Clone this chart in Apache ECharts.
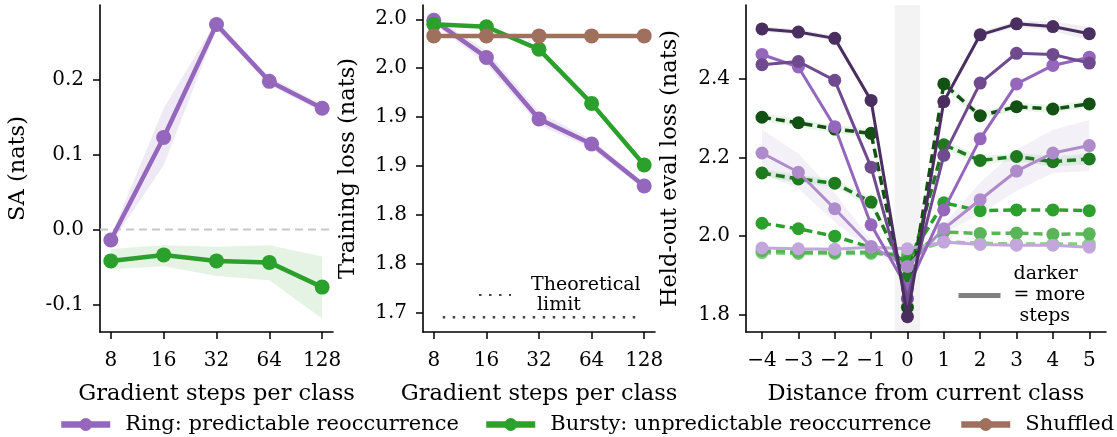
<!DOCTYPE html>
<html><head><meta charset="utf-8">
<script src="https://cdn.jsdelivr.net/npm/echarts@6/dist/echarts.min.js"></script>
<style>html,body{margin:0;padding:0;background:#fff}#c{width:1117px;height:437px}</style>
</head><body><div id="c"></div>
<script>
// ---------- data ----------
const steps = [8, 16, 32, 64, 128];
const stepLabels = ['8', '16', '32', '64', '128'];

// Panel 1: SA (nats)
const saRing     = [-0.014, 0.123, 0.274, 0.198, 0.162];
const saRingLo   = [-0.019, 0.086, 0.268, 0.193, 0.157];
const saRingHi   = [-0.009, 0.162, 0.279, 0.204, 0.167];
const saBursty   = [-0.042, -0.034, -0.042, -0.044, -0.077];
const saBurstyLo = [-0.053, -0.049, -0.062, -0.068, -0.119];
const saBurstyHi = [-0.026, -0.021, -0.023, -0.021, -0.036];
const saTicks = [-0.1, 0.0, 0.1, 0.2];
const saTickLabels = ['-0.1', '0.0', '0.1', '0.2'];
const saZero = 0;

// Panel 2: Training loss (nats)
const trainRing     = [1.999, 1.961, 1.898, 1.8725, 1.8295];
const trainRingLo   = [1.996, 1.954, 1.892, 1.868, 1.826];
const trainRingHi   = [2.002, 1.968, 1.905, 1.877, 1.833];
const trainBursty   = [1.995, 1.9924, 1.9693, 1.914, 1.851];
const trainShuffled = [1.983, 1.983, 1.983, 1.983, 1.983];
const theoreticalLimit = 1.6955;
const limitSpanSteps = [9, 117];
const trainTicks = [1.70, 1.75, 1.80, 1.85, 1.90, 1.95, 2.00];
const trainTickLabels = ['1.7', '1.8', '1.8', '1.9', '1.9', '2.0', '2.0'];

// Panel 3: Held-out eval loss (nats) vs distance
const dist = [-4, -3, -2, -1, 0, 1, 2, 3, 4, 5];
const distLabels = ['\u22124', '\u22123', '\u22122', '\u22121', '0', '1', '2', '3', '4', '5'];
const currentSpan = [-0.35, 0.35];
const ring8   = [1.969, 1.967, 1.966, 1.971, 1.967, 1.984, 1.978, 1.976, 1.976, 1.971];
const ring16  = [2.211, 2.162, 2.069, 1.973, 1.922, 2.018, 2.092, 2.165, 2.211, 2.230];
const ring16Lo = [2.160, 2.120, 2.035, 1.962, 1.912, 2.006, 2.055, 2.115, 2.160, 2.165];
const ring16Hi = [2.270, 2.210, 2.110, 1.988, 1.932, 2.030, 2.135, 2.220, 2.270, 2.295];
const ring32  = [2.462, 2.430, 2.278, 2.028, 1.866, 2.066, 2.247, 2.387, 2.434, 2.455];
const ring64  = [2.436, 2.444, 2.396, 2.175, 1.840, 2.205, 2.389, 2.465, 2.462, 2.440];
const ring128 = [2.527, 2.519, 2.503, 2.345, 1.794, 2.342, 2.512, 2.540, 2.533, 2.515];
const ring128Lo = [2.520, 2.512, 2.496, 2.338, 1.790, 2.335, 2.505, 2.532, 2.522, 2.498];
const ring128Hi = [2.534, 2.526, 2.510, 2.352, 1.798, 2.349, 2.519, 2.548, 2.546, 2.532];
const bursty8   = [1.957, 1.955, 1.955, 1.955, 1.955, 1.985, 1.981, 1.979, 1.979, 1.979];
const bursty16  = [1.962, 1.958, 1.958, 1.958, 1.945, 2.010, 2.006, 2.007, 2.004, 2.005];
const bursty32  = [2.032, 2.018, 1.999, 1.970, 1.935, 2.084, 2.064, 2.066, 2.066, 2.064];
const bursty64  = [2.160, 2.145, 2.134, 2.086, 1.895, 2.232, 2.192, 2.202, 2.189, 2.196];
const bursty64Lo = [2.150, 2.135, 2.124, 2.074, 1.885, 2.220, 2.182, 2.192, 2.176, 2.183];
const bursty64Hi = [2.170, 2.155, 2.144, 2.098, 1.905, 2.244, 2.202, 2.212, 2.202, 2.209];
const bursty128 = [2.302, 2.288, 2.272, 2.261, 1.818, 2.387, 2.306, 2.329, 2.323, 2.336];
const bursty128Lo = [2.292, 2.278, 2.262, 2.250, 1.810, 2.376, 2.296, 2.319, 2.313, 2.326];
const bursty128Hi = [2.312, 2.298, 2.282, 2.272, 1.826, 2.398, 2.316, 2.339, 2.333, 2.346];
const evalTicks = [1.8, 2.0, 2.2, 2.4];
const evalTickLabels = ['1.8', '2.0', '2.2', '2.4'];

// axis extents
const stepsRange = [2.795, 7.205];        // log2(steps) axis
const saRange = [-0.137, 0.30];
const trainRange = [1.6803, 2.0146];
const distRange = [-4.44, 5.46];
const evalRange = [1.755, 2.588];

// ---------- styling ----------
const FONT = 'DejaVu Serif';
const C_RING = '#9467bd', C_BURSTY = '#2ca02c', C_SHUF = '#a0705f';
const ringShades   = ['#c3a6dc', '#ae8ccb', '#9467bd', '#6f4a8e', '#4a2e60'];
const burstyShades = ['#86cc86', '#58b658', '#2ca02c', '#1f7a1f', '#135013'];

const lx = steps.map(s => Math.log2(s));
const pairs = (xs, ys) => xs.map((x, i) => [x, ys[i]]);
const labelFrom = (ticks, labels) => v => {
  let best = 0; ticks.forEach((t, i) => { if (Math.abs(t - v) < Math.abs(ticks[best] - v)) best = i; });
  return labels[best];
};

const axisLine = { show: true, onZero: false, lineStyle: { color: '#000', width: 1.6 } };
const axisTick = { show: true, inside: false, length: 7, lineStyle: { color: '#000', width: 1.5 } };
const labelStyle = { color: '#000', fontFamily: FONT, fontSize: 20 };
const nameStyle = { color: '#000', fontFamily: FONT, fontSize: 22.5 };

function xStepsAxis(gi) {
  return {
    type: 'value', gridIndex: gi, min: stepsRange[0], max: stepsRange[1],
    axisLine, axisTick: Object.assign({ customValues: lx }, axisTick),
    axisLabel: Object.assign({ customValues: lx, margin: 19, formatter: labelFrom(lx, stepLabels) }, labelStyle),
    splitLine: { show: false },
    name: 'Gradient steps per class', nameLocation: 'middle', nameGap: 51, nameTextStyle: nameStyle
  };
}

function band(gi, xs, lo, hi, color, opacity, z) {
  return {
    type: 'custom', xAxisIndex: gi, yAxisIndex: gi, silent: true, z: z == null ? 1 : z,
    data: [[xs[0], lo[0]]],
    renderItem: function (params, api) {
      const pts = [];
      for (let i = 0; i < xs.length; i++) pts.push(api.coord([xs[i], hi[i]]));
      for (let i = xs.length - 1; i >= 0; i--) pts.push(api.coord([xs[i], lo[i]]));
      return { type: 'polygon', shape: { points: pts }, style: { fill: color, opacity: opacity } };
    }
  };
}

function mainLine(name, gi, xs, ys, color, z) {
  return { type: 'line', name: name, xAxisIndex: gi, yAxisIndex: gi, data: pairs(xs, ys),
    symbol: 'circle', symbolSize: 15, itemStyle: { color: color }, lineStyle: { color: color, width: 4.5 },
    z: z || 3 };
}

const RING = 'Ring: predictable reoccurrence';
const BURSTY = 'Bursty: unpredictable reoccurrence';
const SHUF = 'Shuffled';

const series = [];
// Panel 1
series.push({ type: 'line', name: 'zero', xAxisIndex: 0, yAxisIndex: 0, silent: true, z: 2,
  data: stepsRange.map(x => [x, saZero]), symbol: 'none',
  lineStyle: { color: '#c8c8c8', type: [8, 5], width: 2 } });
series.push(band(0, lx, saRingLo, saRingHi, C_RING, 0.15));
series.push(band(0, lx, saBurstyLo, saBurstyHi, C_BURSTY, 0.13));
series.push(mainLine(BURSTY, 0, lx, saBursty, C_BURSTY, 3));
series.push(mainLine(RING, 0, lx, saRing, C_RING, 4));
// Panel 2
series.push(band(1, lx, trainRingLo, trainRingHi, C_RING, 0.15));
series.push(mainLine(RING, 1, lx, trainRing, C_RING, 3));
series.push(mainLine(BURSTY, 1, lx, trainBursty, C_BURSTY, 4));
series.push(mainLine(SHUF, 1, lx, trainShuffled, C_SHUF, 5));
series.push({ type: 'line', name: 'Theoretical limit', xAxisIndex: 1, yAxisIndex: 1,
  data: limitSpanSteps.map(s => [Math.log2(s), theoreticalLimit]), symbol: 'none',
  lineStyle: { color: '#444', width: 2.5, type: [2.5, 7.5] }, itemStyle: { color: '#444' }, z: 3 });
// Panel 3: shaded "current class" span
series.push({
  type: 'custom', xAxisIndex: 2, yAxisIndex: 2, silent: true, z: 0,
  data: [[currentSpan[0], evalRange[0]]],
  renderItem: function (params, api) {
    const a = api.coord([currentSpan[0], evalRange[1]]);
    const b = api.coord([currentSpan[1], evalRange[0]]);
    return { type: 'rect', shape: { x: a[0], y: a[1], width: b[0] - a[0], height: b[1] - a[1] },
      style: { fill: '#f3f3f3' } };
  }
});
series.push(band(2, dist, ring16Lo, ring16Hi, C_RING, 0.10));
series.push(band(2, dist, ring128Lo, ring128Hi, '#8a8aa0', 0.15));
series.push(band(2, dist, bursty64Lo, bursty64Hi, C_BURSTY, 0.10));
series.push(band(2, dist, bursty128Lo, bursty128Hi, C_BURSTY, 0.10));
const burstyAll = [bursty8, bursty16, bursty32, bursty64, bursty128];
const ringAll = [ring8, ring16, ring32, ring64, ring128];
burstyAll.forEach((ys, i) => series.push({ type: 'line', name: 'bursty-' + steps[i], xAxisIndex: 2, yAxisIndex: 2,
  data: pairs(dist, ys), symbol: 'circle', symbolSize: 13, itemStyle: { color: burstyShades[i] },
  lineStyle: { color: burstyShades[i], width: 3.5, type: [9, 5] }, z: 3 + i }));
ringAll.forEach((ys, i) => series.push({ type: 'line', name: 'ring-' + steps[i], xAxisIndex: 2, yAxisIndex: 2,
  data: pairs(dist, ys), symbol: 'circle', symbolSize: 13, itemStyle: { color: ringShades[i] },
  lineStyle: { color: ringShades[i], width: 3 }, z: 10 + i }));
series.push({ type: 'line', name: 'darker', xAxisIndex: 2, yAxisIndex: 2, data: [], symbol: 'none',
  lineStyle: { color: '#808080', width: 5 }, itemStyle: { color: '#808080' } });

const mainLegendStyle = { color: '#000', fontFamily: FONT, fontSize: 21, padding: [0, 0, 0, 10] };
function mainLegend(name, left) {
  return { data: [name], left: left, top: 414, itemWidth: 49, itemHeight: 16, selectedMode: false,
    lineStyle: { width: 6.5 }, textStyle: mainLegendStyle, padding: 0 };
}

const option = {
  animation: false,
  backgroundColor: '#fff',
  grid: [
    { left: 100, top: 5, width: 233, height: 327 },
    { left: 423, top: 5, width: 232, height: 327 },
    { left: 746, top: 5, width: 360, height: 327 }
  ],
  xAxis: [
    xStepsAxis(0), xStepsAxis(1),
    { type: 'value', gridIndex: 2, min: distRange[0], max: distRange[1],
      axisLine, axisTick: Object.assign({ customValues: dist }, axisTick),
      axisLabel: Object.assign({ customValues: dist, margin: 19, formatter: labelFrom(dist, distLabels) }, labelStyle),
      splitLine: { show: false },
      name: 'Distance from current class', nameLocation: 'middle', nameGap: 51, nameTextStyle: nameStyle }
  ],
  yAxis: [
    { type: 'value', gridIndex: 0, min: saRange[0], max: saRange[1],
      axisLine, axisTick: Object.assign({ customValues: saTicks }, axisTick),
      axisLabel: Object.assign({ customValues: saTicks, margin: 16, formatter: labelFrom(saTicks, saTickLabels) }, labelStyle),
      splitLine: { show: false },
      name: 'SA (nats)', nameLocation: 'middle', nameGap: 70, nameTextStyle: nameStyle },
    { type: 'value', gridIndex: 1, min: trainRange[0], max: trainRange[1],
      axisLine, axisTick: Object.assign({ customValues: trainTicks }, axisTick),
      axisLabel: Object.assign({ customValues: trainTicks, margin: 16, formatter: labelFrom(trainTicks, trainTickLabels) }, labelStyle),
      splitLine: { show: false },
      name: 'Training loss (nats)', nameLocation: 'middle', nameGap: 63, nameTextStyle: nameStyle },
    { type: 'value', gridIndex: 2, min: evalRange[0], max: evalRange[1],
      axisLine, axisTick: Object.assign({ customValues: evalTicks }, axisTick),
      axisLabel: Object.assign({ customValues: evalTicks, margin: 16, formatter: labelFrom(evalTicks, evalTickLabels) }, labelStyle),
      splitLine: { show: false },
      name: 'Held-out eval loss (nats)', nameLocation: 'middle', nameGap: 64, nameTextStyle: nameStyle }
  ],
  legend: [
    mainLegend(RING, 58), mainLegend(BURSTY, 483), mainLegend(SHUF, 958),
    { data: ['Theoretical limit'], left: 478, top: 275, itemWidth: 32, itemHeight: 10, selectedMode: false, padding: 0,
      itemStyle: { opacity: 0 },
      formatter: () => 'Theoretical\n limit',
      textStyle: { color: '#000', fontFamily: FONT, fontSize: 19, lineHeight: 20, padding: [0, 0, 0, 15] } },
    { data: ['darker'], left: 956, top: 264, itemWidth: 42, itemHeight: 10, selectedMode: false, padding: 0,
      itemStyle: { opacity: 0 }, lineStyle: { width: 5 },
      formatter: () => 'darker\n= more\n steps',
      textStyle: { color: '#000', fontFamily: FONT, fontSize: 19, lineHeight: 21, padding: [0, 0, 0, 8] } }
  ],
  series: series
};

const chart = echarts.init(document.getElementById('c'), null, { renderer: 'canvas' });
chart.setOption(option);
</script>
</body></html>
